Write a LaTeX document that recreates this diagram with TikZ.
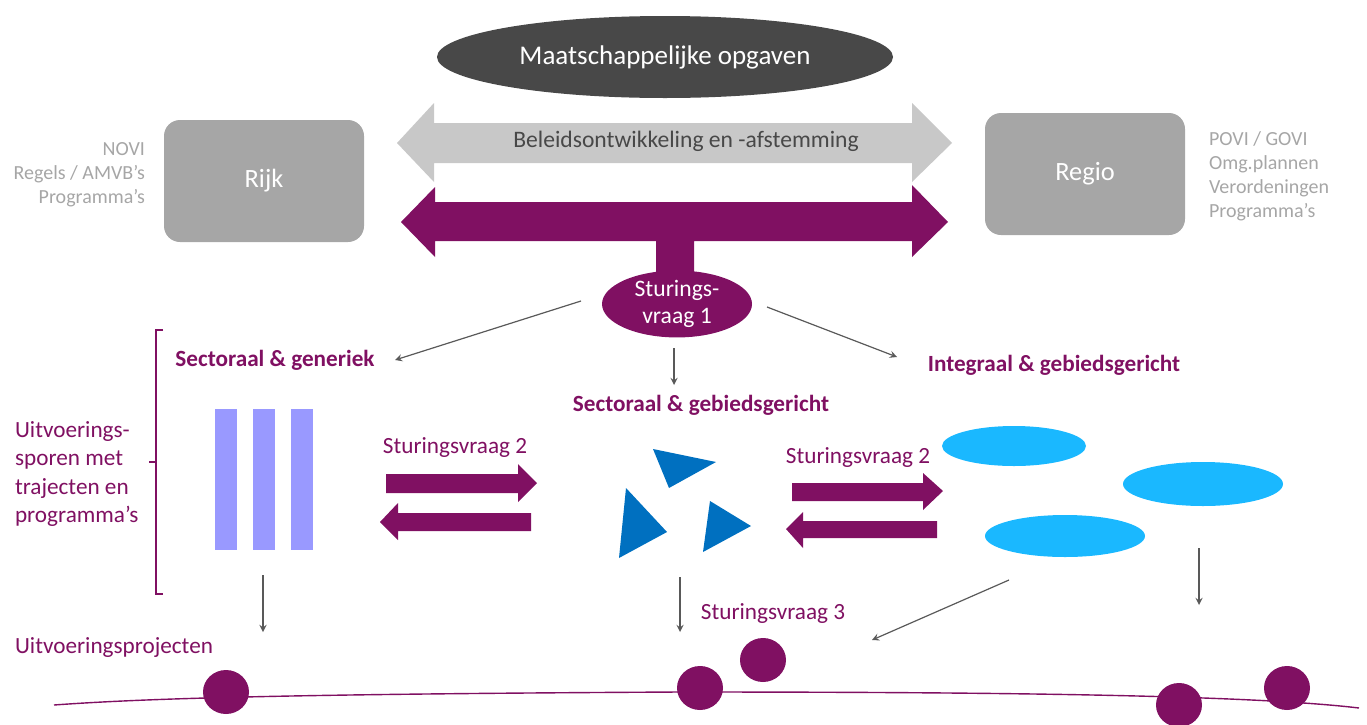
\documentclass[tikz,border=0pt]{standalone}
\usepackage{fontspec}
\setmainfont{Carlito}
\usetikzlibrary{shapes.geometric}
\definecolor{paars}{RGB}{128,16,98}
\definecolor{donker}{RGB}{72,72,72}
\definecolor{grijs}{RGB}{166,166,166}
\definecolor{lichtgrijs}{RGB}{200,200,200}
\definecolor{lila}{RGB}{153,153,255}
\definecolor{blauw}{RGB}{0,112,192}
\definecolor{cyaan}{RGB}{26,184,255}
\definecolor{pijlgrijs}{RGB}{89,89,89}
\tikzset{
	kop/.style={font=\fontsize{11.6}{14}\selectfont\bfseries,text=paars},
	paarstekst/.style={font=\fontsize{11.6}{14.3}\selectfont,text=paars},
	grijstekst/.style={font=\fontsize{10}{12}\selectfont,text=grijs},
	overheid/.style={rectangle,rounded corners=8pt,fill=grijs,text=white,minimum width=100pt,minimum height=61pt,font=\fontsize{13.2}{16}\selectfont},
	dunpijl/.style={->,>=stealth,draw=pijlgrijs,line width=0.6pt},
	project/.style={fill=paars,x radius=11.5pt,y radius=11pt}
}

\begin{document}
\begin{tikzpicture}[x=0.5pt,y=-0.5pt]
	\useasboundingbox (0,0) rectangle (1367,724);
	%TOP
	\node[ellipse,fill=donker,text=white,minimum width=228pt,minimum height=41pt,inner sep=0pt,font=\fontsize{13.5}{16}\selectfont] (opgaven) at (665,57) {Maatschappelijke opgaven};
	\node[overheid] (rijk) at (264,181) {Rijk};
	\node[overheid] (regio) at (1085,174) {Regio};
	\node[grijstekst,align=right,anchor=east] (rijktekst) at (152,175) {NOVI\\Regels / AMVB’s\\Programma’s};
	\node[grijstekst,align=left,anchor=west] (regiotekst) at (1202,176) {POVI / GOVI\\Omg.plannen\\Verordeningen\\Programma’s};
	%
	\fill[lichtgrijs] (397,143)--(434,103)--(434,123)--(912,123)--(912,103)--(952,143)--(912,182)--(912,163)--(434,163)--(434,182)--cycle;
	\node[font=\fontsize{11.8}{14}\selectfont,text=donker] (beleid) at (686,141) {Beleidsontwikkeling en -afstemming};
	\fill[paars] (401,222)--(435,187)--(435,202)--(912,202)--(912,185)--(948,222)--(912,257)--(912,241)--(694,241)--(694,285)--(656,285)--(656,241)--(435,241)--(435,257)--cycle;
	\node[ellipse,fill=paars,text=white,minimum width=75pt,minimum height=33pt,inner sep=0pt,align=center,font=\fontsize{11.8}{13.5}\selectfont] (sv1) at (677,304) {Sturings-\\vraag 1};
	
	%SPOREN
	\node[kop] (generiek) at (275,360) {Sectoraal \& generiek};
	\node[kop] (gebied) at (701,405) {Sectoraal \& gebiedsgericht};
	\node[kop] (integraal) at (1054,365) {Integraal \& gebiedsgericht};
	\coordinate (sv1l) at (581,301);	\coordinate (sv1lend) at (395,360);
	\coordinate (sv1r) at (767,307);	\coordinate (sv1rend) at (897,357);
	\coordinate (sv1o) at (674,348);	\coordinate (sv1oend) at (674,385);
	\draw[dunpijl] (sv1l)--(sv1lend);
	\draw[dunpijl] (sv1r)--(sv1rend);
	\draw[dunpijl] (sv1o)--(sv1oend);
	%
	\draw[paars,line width=0.6pt] (163,330)--(156,330)--(156,594)--(163,594);
	\draw[paars,line width=0.6pt] (156,462)--(149,462);
	\node[paarstekst,align=left,anchor=west] (sporen) at (8,474) {Uitvoerings-\\sporen met\\trajecten en\\programma’s};
	%
	\foreach \x in {215,253,291} \fill[lila] (\x,409) rectangle ++(22,141);
	%
	\fill[blauw] (653,449)--(716,462)--(669,488)--cycle;
	\fill[blauw] (626,488)--(667,532)--(619,558)--cycle;
	\fill[blauw] (710,501)--(751,526)--(703,552)--cycle;
	%
	\fill[cyaan] (1014,446) ellipse (36pt and 10pt);
	\fill[cyaan] (1203,484) ellipse (40pt and 11pt);
	\fill[cyaan] (1065,536) ellipse (40pt and 10.5pt);
	
	%STURINGSVRAAG 2
	\node[paarstekst] (sv2l) at (455,448) {Sturingsvraag 2};
	\fill[paars] (386,474)--(518,474)--(518,464)--(537,483)--(518,502)--(518,493)--(386,493)--cycle;
	\fill[paars] (531,513)--(398,513)--(398,503)--(380,522)--(398,540)--(398,531)--(531,531)--cycle;
	\node[paarstekst] (sv2r) at (858,458) {Sturingsvraag 2};
	\fill[paars] (792,483)--(923,483)--(923,473)--(943,491)--(923,510)--(923,501)--(792,501)--cycle;
	\fill[paars] (937,521)--(803,521)--(803,512)--(786,529)--(803,548)--(803,538)--(937,538)--cycle;
	
	%PROJECTEN
	\coordinate (spoor1) at (263,575);	\coordinate (spoor1end) at (263,632);
	\coordinate (spoor2) at (680,577);	\coordinate (spoor2end) at (680,632);
	\coordinate (spoor3) at (1199,548);	\coordinate (spoor3end) at (1199,605);
	\coordinate (spoor4) at (1009,580);	\coordinate (spoor4end) at (872,640);
	\draw[dunpijl] (spoor1)--(spoor1end);
	\draw[dunpijl] (spoor2)--(spoor2end);
	\draw[dunpijl] (spoor3)--(spoor3end);
	\draw[dunpijl] (spoor4)--(spoor4end);
	\node[paarstekst] (sv3) at (773,614) {Sturingsvraag 3};
	\node[paarstekst,anchor=west] (projecten) at (8,648) {Uitvoeringsprojecten};
	%
	\draw[paars,line width=0.7pt] (54,705) .. controls (150,698) and (300,694) .. (680,692) .. controls (1000,692) and (1250,695) .. (1359,708);
	\fill[project] (226,692) ellipse [];
	\fill[project] (700,688) ellipse [];
	\fill[project] (763,660) ellipse [];
	\fill[project] (1179,705) ellipse [];
	\fill[project] (1287,688) ellipse [];
\end{tikzpicture}
\end{document}
